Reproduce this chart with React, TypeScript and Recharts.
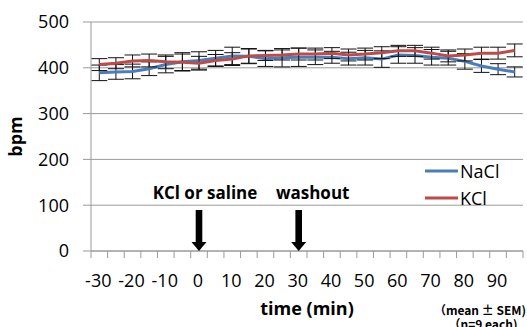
import {
  ComposedChart,
  Line,
  ErrorBar,
  XAxis,
  YAxis,
  CartesianGrid,
  ReferenceDot,
  Legend,
} from 'recharts';

const BLUE = '#4a7ebb';
const RED = '#be4b48';
const GRID = '#9a9a9a';
const FONT = 'Open Sans, sans-serif';

// time points (min), every 5 min
const times = [-30, -25, -20, -15, -10, -5, 0, 5, 10, 15, 20, 25, 30, 35, 40, 45, 50, 55, 60, 65, 70, 75, 80, 85, 90, 95];
// heart rate (bpm), mean and SEM
const nacl = [389, 391, 392, 398, 407, 413, 416, 421, 426, 425, 420, 422, 423, 423, 423, 420, 422, 419, 428, 427, 423, 421, 414, 404, 397, 391];
const naclSem = [17, 16, 16, 15, 18, 20, 19, 17, 19, 16, 17, 20, 20, 16, 13, 14, 16, 18, 18, 17, 17, 15, 17, 14, 12, 11];
const kcl = [407, 410, 415, 416, 413, 412, 410, 416, 419, 426, 427, 428, 430, 430, 432, 428, 430, 433, 437, 437, 432, 426, 428, 432, 432, 438];
const kclSem = [13, 12, 13, 14, 15, 18, 15, 13, 14, 16, 11, 11, 13, 13, 12, 13, 13, 13, 12, 12, 13, 13, 13, 13, 13, 14];
const yTicks = [0, 100, 200, 300, 400, 500];
const legendOrder = ['NaCl', 'KCl'];
// events marked with arrows
const events = [
  { t: 0, label: 'KCl or saline', dx: 6 },
  { t: 30, label: 'washout', dx: 14 },
];

const data = times.map((t, i) => ({
  t,
  NaCl: nacl[i],
  naclSem: naclSem[i],
  KCl: kcl[i],
  kclSem: kclSem[i],
}));

const HALF_BAND = 432 / times.length / 2;

function TimeTick(props: any) {
  const { x, y, payload, index } = props;
  const half = payload && payload.offset ? payload.offset : HALF_BAND;
  const isLast = index === times.length - 1;
  const showLabel = payload.value % 10 === 0;
  return (
    <g>
      <line x1={x - half} x2={x - half} y1={y} y2={y + 7} stroke={GRID} />
      {isLast && <line x1={x + half} x2={x + half} y1={y} y2={y + 7} stroke={GRID} />}
      {showLabel && (
        <text x={x - 1} y={y + 36} textAnchor="middle" fill="#000" fontSize={18} fontFamily={FONT}>
          {payload.value}
        </text>
      )}
    </g>
  );
}

function makeArrow(label: string, dx: number) {
  return (props: any) => {
    const { cx, cy } = props;
    return (
      <g>
        <text
          x={cx + dx}
          y={cy - 52}
          textAnchor="middle"
          fontSize={17}
          fontWeight="bold"
          fontFamily={FONT}
          fill="#000"
        >
          {label}
        </text>
        <rect x={cx - 3.3} y={cy - 41} width={6.6} height={33} fill="#000" />
        <polygon points={`${cx - 7.5},${cy - 9} ${cx + 7.5},${cy - 9} ${cx},${cy}`} fill="#000" />
      </g>
    );
  };
}

function renderLegend(props: any) {
  const items = legendOrder
    .map((name) => (props.payload || []).find((p: any) => p.value === name))
    .filter(Boolean);
  return (
    <div>
      {items.map((p: any) => (
        <div key={p.value} style={{ display: 'flex', alignItems: 'center', height: 27 }}>
          <svg width={33} height={4} style={{ marginRight: 2 }}>
            <line x1={0} x2={33} y1={2} y2={2} stroke={p.color} strokeWidth={3} />
          </svg>
          <span style={{ fontSize: 18, fontFamily: FONT, color: '#000' }}>{p.value}</span>
        </div>
      ))}
    </div>
  );
}

export default function App() {
  return (
    <div style={{ position: 'absolute', left: 0, top: 0, fontFamily: FONT }}>
      <ComposedChart
        width={527}
        height={327}
        data={data}
        margin={{ top: 22, right: 4, bottom: 0, left: 0 }}
      >
        <CartesianGrid stroke={GRID} vertical={false} />
        <XAxis
          dataKey="t"
          type="category"
          scale="band"
          interval={0}
          height={76}
          tickLine={false}
          tickSize={0}
          tickMargin={0}
          axisLine={{ stroke: GRID }}
          tick={<TimeTick />}
          label={{
            content: (p: any) => {
              const vb = p.viewBox || { x: 91, y: 251, width: 432 };
              const cx = vb.x + vb.width / 2;
              return (
                <g>
                  <text x={cx} y={315} textAnchor="middle" fontSize={18} fontWeight="bold" fontFamily={FONT} fill="#000">
                    time (min)
                  </text>
                  <text x={480} y={315} textAnchor="middle" fontSize={12} fontWeight="bold" fontFamily="Noto Sans CJK JP" fill="#000">
                    （mean ± SEM)
                  </text>
                  <text x={483} y={329} textAnchor="middle" fontSize={12} fontWeight="bold" fontFamily="Noto Sans CJK JP" fill="#000">
                    （n=9 each)
                  </text>
                </g>
              );
            },
          }}
        />
        <YAxis
          domain={[0, 500]}
          ticks={yTicks}
          width={91}
          tickSize={8}
          tickMargin={14}
          tickLine={{ stroke: GRID }}
          axisLine={{ stroke: GRID }}
          tick={{ fill: '#000', fontSize: 18, fontFamily: FONT }}
          label={{
            content: (p: any) => {
              const vb = p.viewBox || { y: 22, height: 229 };
              const cy = vb.y + vb.height / 2;
              return (
                <text
                  transform={`translate(22, ${cy}) rotate(-90)`}
                  textAnchor="middle"
                  fontSize={18}
                  fontWeight="bold"
                  fontFamily={FONT}
                  fill="#000"
                >
                  bpm
                </text>
              );
            },
          }}
        />
        <Legend
          layout="vertical"
          align="center"
          verticalAlign="middle"
          content={renderLegend}
          wrapperStyle={{ left: 425, top: 157, width: 100 }}
        />
        <Line
          type="linear"
          dataKey="NaCl"
          stroke={BLUE}
          strokeWidth={3}
          dot={false}
          isAnimationActive={false}
        >
          <ErrorBar dataKey="naclSem" width={8} stroke="#111" strokeWidth={1} isAnimationActive={false} />
        </Line>
        <Line
          type="linear"
          dataKey="KCl"
          stroke={RED}
          strokeWidth={3}
          dot={false}
          isAnimationActive={false}
        >
          <ErrorBar dataKey="kclSem" width={8} stroke="#111" strokeWidth={1} isAnimationActive={false} />
        </Line>
        {events.map((e) => (
          <ReferenceDot
            key={e.t}
            x={e.t}
            y={0}
            r={0}
            ifOverflow="visible"
            shape={makeArrow(e.label, e.dx)}
          />
        ))}
      </ComposedChart>
    </div>
  );
}
